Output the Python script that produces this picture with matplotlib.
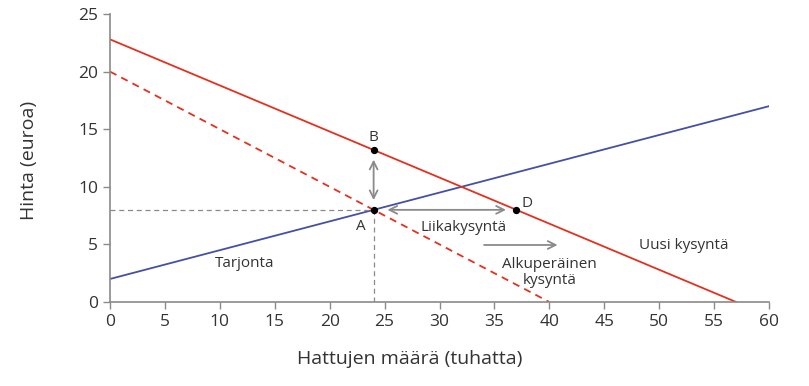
import matplotlib.pyplot as plt
import numpy as np

plt.rcParams['font.family'] = ['Open Sans', 'DejaVu Sans']

# käyrät: P = a + b*Q
q_range = [0, 60]
tarjonta = (2.0, 0.25)
alkup_kysynta = (20.0, -0.5)
uusi_kysynta = (22.8, -0.4)

# pisteet
pisteet_nimet = ['A', 'B', 'D']
pisteet_q = [24, 24, 37]
pisteet_p = [8, 13.2, 8]

xticks = list(range(0, 61, 5))
yticks = list(range(0, 26, 5))

red = '#e4301f'
blue = '#4450a5'
grey = '#8a8a8a'
txt = '#333333'

fig = plt.figure(figsize=(8.09, 3.86), dpi=100)
ax = fig.add_axes([0.136, 0.2176, 0.8146, 0.7461])

q = np.array(q_range, dtype=float)
ax.plot(q, tarjonta[0] + tarjonta[1] * q, color=blue, lw=1.3)
q2 = np.array([0, -alkup_kysynta[0] / alkup_kysynta[1]])
ax.plot(q2, alkup_kysynta[0] + alkup_kysynta[1] * q2, color=red, lw=1.3, ls=(0, (4, 3)))
q3 = np.array([0, -uusi_kysynta[0] / uusi_kysynta[1]])
ax.plot(q3, uusi_kysynta[0] + uusi_kysynta[1] * q3, color=red, lw=1.3)

# apuviivat
ax.plot([0, pisteet_q[0]], [pisteet_p[0]] * 2, color=grey, lw=0.9, ls=(0, (4, 3)))
ax.plot([pisteet_q[0]] * 2, [0, pisteet_p[0]], color=grey, lw=0.9, ls=(0, (4, 3)))

ax.scatter(pisteet_q, pisteet_p, s=18, color='black', zorder=5)

arr = dict(arrowstyle='<->', color=grey, lw=1.3, mutation_scale=14)
ax.annotate('', xy=(24, 12.6), xytext=(24, 8.6), arrowprops=arr)
ax.annotate('', xy=(25, 8), xytext=(36.3, 8), arrowprops=arr)
ax.annotate('', xy=(41, 4.95), xytext=(33.8, 4.95),
            arrowprops=dict(arrowstyle='->', color=grey, lw=1.3, mutation_scale=14))

fs = 11
ax.text(24, 13.6, 'B', ha='center', va='bottom', fontsize=fs, color=txt)
ax.text(23.3, 7.2, 'A', ha='right', va='top', fontsize=fs, color=txt)
ax.text(37.5, 7.9, 'D', ha='left', va='bottom', fontsize=fs, color=txt)
ax.text(32.2, 6.5, 'Liikakysyntä', ha='center', va='center', fontsize=fs, color=txt)
ax.text(40, 2.6, 'Alkuperäinen\nkysyntä', ha='center', va='center', fontsize=fs,
        color=txt, linespacing=1.1)
ax.text(52.2, 4.9, 'Uusi kysyntä', ha='center', va='center', fontsize=fs, color=txt)
ax.text(12.3, 3.3, 'Tarjonta', ha='center', va='center', fontsize=fs, color=txt)

ax.set_xlim(0, 60)
ax.set_ylim(0, 25)
ax.set_xticks(xticks)
ax.set_yticks(yticks)
for s in ['top', 'right']:
    ax.spines[s].set_visible(False)
for s in ['left', 'bottom']:
    ax.spines[s].set_color(grey)
    ax.spines[s].set_linewidth(1.2)
ax.tick_params(colors=grey, labelcolor=txt, labelsize=12.5, length=5, width=1)
ax.set_xlabel('Hattujen määrä (tuhatta)', fontsize=14, color=txt)
ax.xaxis.set_label_coords(0.454, -0.165)
ax.set_ylabel('Hinta (euroa)', fontsize=14, color=txt)
ax.yaxis.set_label_coords(-0.11, 0.49)

plt.savefig('out.png', dpi=100)
